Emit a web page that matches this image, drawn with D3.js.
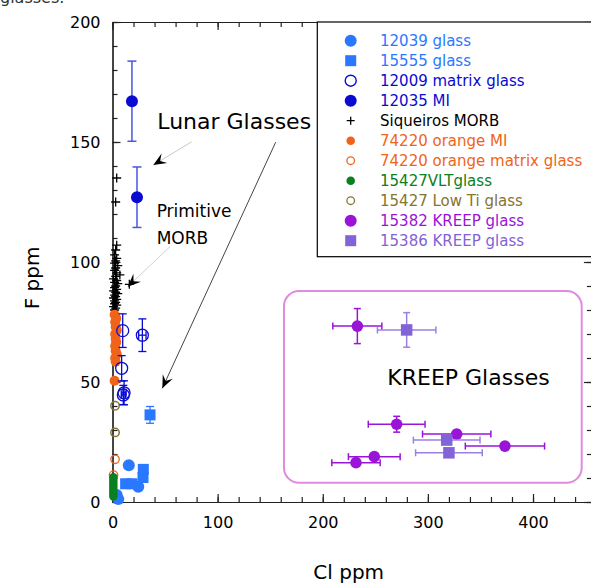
<!DOCTYPE html>
<html><head><meta charset="utf-8">
<script src="https://cdn.jsdelivr.net/npm/d3@7"></script>
<style>body{margin:0;background:#fff}svg{display:block}text{font-family:"DejaVu Sans",sans-serif}</style>
</head><body>
<svg id="c" width="591" height="585"></svg>
<script>
// ---- data ----
const xTicksMajor = [0, 100, 200, 300, 400];
const yTicksMajor = [0, 50, 100, 150, 200];
const glass12039 = [[15.5, 15.3], [24.5, 6.4], [4, 2.9], [5.5, 1.2]];
const glass15555 = [[35.7, 36.3, 3.5], [29.3, 13.6, 0], [29.0, 10.2, 0], [12.5, 7.6, 0], [18.5, 7.6, 0]];
const matrix12009 = [[9.7, 71.4, 7, 0], [28.4, 69.5, 6.8, 3.5], [8.7, 55.7, 5.3, 0], [11.0, 45.5, 5, 2], [10.3, 44.6, 4, 2]];
const mi12035 = [[18.5, 167, 16.7], [23.3, 127, 12.6]];
const morbX = [4, 3, 4, 3, 2, 4, 3, 2, 5, 3, 2, 4, 7, 3, 1, 4, 2, 5, 16, 3, 2, 4, 1, 3, 5, 2, 3, 1, 4, 2, 3, 2, 4, 1, 3, 2];
const morbY = [135, 125, 107, 105, 103, 101.5, 100.5, 99.5, 98.5, 97.5, 96.5, 95.5, 94.6, 94, 93, 92.2, 91.5, 91, 90.7, 90, 89.3, 88.6, 88, 87.4, 86.8, 86.2, 85.6, 85, 84.4, 83.8, 83.2, 82.6, 82, 81.4, 80.8, 80];
const orangeMI = [[2, 78], [3.5, 76.5], [2.5, 75], [3, 73], [4, 71.5], [2.5, 70], [3, 68], [3.5, 66.5], [2.5, 65], [3, 63], [4, 61.5], [2.5, 60], [3, 58.5], [2, 50.5]];
const orangeMatrix = [[2.4, 17.8], [1, 11.2]];
const vlt15427 = [[0.8, 10.3], [0.8, 9.3], [0.8, 8.3], [0.8, 7.3], [0.8, 6.3], [0.8, 5.3], [0.8, 4.3], [0.8, 3.3], [0.8, 2.3]];
const lowTi15427 = [[2.4, 40.1], [2.4, 29]];
// KREEP: x, y, xerr, yerr
const kreep15382 = [[232.9, 73.3, 23.3, 7.3], [270.3, 32.4, 27, 3.3], [327.4, 28.3, 32.5, 1.5], [373.3, 23.3, 37.7, 0], [249, 18.9, 24.6, 0], [231.6, 16.4, 23, 0]];
const kreep15386 = [[279.8, 71.7, 27.8, 7.2], [317.9, 25.8, 31.7, 0], [320, 20.5, 31.7, 0]];
const legendLabels = ["12039 glass", "15555 glass", "12009 matrix glass", "12035 MI", "Siqueiros MORB", "74220 orange MI", "74220 orange matrix glass", "15427VLTglass", "15427 Low Ti glass", "15382 KREEP glass", "15386 KREEP glass"];

// ---- colours ----
const C = {
  lb: "#2a78ff", db: "#0a0ad0", dbErr: "#4a55e0", org: "#f0641a", grn: "#0a8020",
  olv: "#857530", pur: "#9a14d8", lav: "#8363d8", blk: "#000"
};

const svg = d3.select("#c");
const x = d3.scaleLinear().domain([0, 456]).range([112.5, 112.5 + 456 * 1.0513]);
const y = d3.scaleLinear().domain([0, 200]).range([502, 22]);
const X0 = x(0), X1 = x(456), Y0 = y(0), Y1 = y(200);

// cropped caption at top
svg.append("text").attr("x", 0).attr("y", 3).attr("font-size", 16).attr("fill", "#333").text("glasses.");

// ---- axes ----
function styleAxis(g) {
  g.selectAll("path.domain").attr("stroke", "#222").attr("stroke-width", 1.2);
  g.selectAll(".tick line").attr("stroke", "#222").attr("stroke-width", 1.2);
  g.selectAll("text").attr("font-size", 16).attr("fill", "#000").attr("font-family", "DejaVu Sans, sans-serif");
}
const xMinor = d3.range(0, 457, 20);
const yMinor = d3.range(0, 201, 10);
// bottom
svg.append("g").attr("transform", `translate(0,${Y0})`)
  .call(d3.axisBottom(x).tickValues(xMinor).tickSize(-5).tickSizeOuter(0).tickFormat(""))
  .call(styleAxis);
svg.append("g").attr("transform", `translate(0,${Y0})`)
  .call(d3.axisBottom(x).tickValues(xTicksMajor).tickSize(-8).tickSizeOuter(0).tickPadding(15))
  .call(styleAxis);
// top
svg.append("g").attr("transform", `translate(0,${Y1})`)
  .call(d3.axisTop(x).tickValues(xMinor).tickSize(-5).tickSizeOuter(0).tickFormat(""))
  .call(styleAxis);
svg.append("g").attr("transform", `translate(0,${Y1})`)
  .call(d3.axisTop(x).tickValues(xTicksMajor).tickSize(-8).tickSizeOuter(0).tickFormat(""))
  .call(styleAxis);
// left
svg.append("g").attr("transform", `translate(${X0},0)`)
  .call(d3.axisLeft(y).tickValues(yMinor).tickSize(-5).tickSizeOuter(0).tickFormat(""))
  .call(styleAxis);
svg.append("g").attr("transform", `translate(${X0},0)`)
  .call(d3.axisLeft(y).tickValues(yTicksMajor).tickSize(-8).tickSizeOuter(0).tickPadding(12))
  .call(styleAxis);
// right
svg.append("g").attr("transform", `translate(${X1},0)`)
  .call(d3.axisRight(y).tickValues(yMinor).tickSize(-5).tickSizeOuter(0).tickFormat(""))
  .call(styleAxis);
svg.append("g").attr("transform", `translate(${X1},0)`)
  .call(d3.axisRight(y).tickValues(yTicksMajor).tickSize(-8).tickSizeOuter(0).tickFormat(""))
  .call(styleAxis);

// axis titles
svg.append("text").attr("x", 348.7).attr("y", 579).attr("text-anchor", "middle")
  .attr("font-size", 20).attr("font-family", "Liberation Sans, Arial, sans-serif").text("Cl ppm");
svg.append("text").attr("transform", "translate(39,278) rotate(-90)").attr("text-anchor", "middle")
  .attr("font-size", 20).attr("font-family", "Liberation Sans, Arial, sans-serif").text("F ppm");

// ---- KREEP box ----
svg.append("rect").attr("x", x(163.1)).attr("y", y(87.9))
  .attr("width", x(446.3) - x(163.1)).attr("height", y(8.0) - y(87.9))
  .attr("rx", 15).attr("fill", "none").attr("stroke", "#e08ae0").attr("stroke-width", 2);

// ---- annotations ----
function arrow(x1, y1, x2, y2, col) {
  const a = [x(x1), y(y1)], b = [x(x2), y(y2)];
  svg.append("line").attr("x1", a[0]).attr("y1", a[1]).attr("x2", b[0]).attr("y2", b[1])
    .attr("stroke", col).attr("stroke-width", 1);
  const ang = Math.atan2(b[1] - a[1], b[0] - a[0]);
  const L = 13, W = 5.5, N = 8;
  const ux = Math.cos(ang), uy = Math.sin(ang), px = -uy, py = ux;
  const p = [
    [b[0], b[1]],
    [b[0] - L * ux + W * px, b[1] - L * uy + W * py],
    [b[0] - N * ux, b[1] - N * uy],
    [b[0] - L * ux - W * px, b[1] - L * uy - W * py]
  ];
  svg.append("path").attr("d", "M" + p.map(d => d.join(",")).join("L") + "Z").attr("fill", "#000");
}
arrow(75.3, 150.1, 38.8, 140.4, "#c8c8c8");
arrow(155.2, 149.9, 47.4, 47.4, "#444");
arrow(54.7, 106.4, 14.5, 89.7, "#d0d0d0");
svg.append("text").attr("x", x(42.6)).attr("y", y(155.3)).attr("font-size", 22).text("Lunar Glasses");
svg.append("text").attr("x", x(42)).attr("y", y(118.6)).attr("font-size", 17).text("Primitive");
svg.append("text").attr("x", x(42)).attr("y", y(107.5)).attr("font-size", 17).text("MORB");
svg.append("text").attr("x", x(261.4)).attr("y", y(48.75)).attr("font-size", 22).text("KREEP Glasses");

// ---- helpers ----
const plot = svg.append("g");
function vErr(cx, y1, y2, col, cap = 4, w = 1.5) {
  plot.append("line").attr("x1", cx).attr("x2", cx).attr("y1", y1).attr("y2", y2).attr("stroke", col).attr("stroke-width", w);
  [y1, y2].forEach(v => plot.append("line").attr("x1", cx - cap).attr("x2", cx + cap).attr("y1", v).attr("y2", v).attr("stroke", col).attr("stroke-width", w));
}
function hErr(cy, x1, x2, col, cap = 4, w = 1.5) {
  plot.append("line").attr("y1", cy).attr("y2", cy).attr("x1", x1).attr("x2", x2).attr("stroke", col).attr("stroke-width", w);
  [x1, x2].forEach(v => plot.append("line").attr("y1", cy - cap).attr("y2", cy + cap).attr("x1", v).attr("x2", v).attr("stroke", col).attr("stroke-width", w));
}
function circ(g, cx, cy, r, col, filled, sw = 1.5) {
  g.append("circle").attr("cx", cx).attr("cy", cy).attr("r", r)
    .attr("fill", filled ? col : "none").attr("stroke", col).attr("stroke-width", filled ? 0 : sw);
}
function sq(g, cx, cy, s, col) {
  g.append("rect").attr("x", cx - s / 2).attr("y", cy - s / 2).attr("width", s).attr("height", s).attr("fill", col);
}
function cross(g, cx, cy, s, col) {
  g.append("path").attr("d", `M${cx - s},${cy}H${cx + s}M${cx},${cy - s}V${cy + s}`).attr("stroke", col).attr("stroke-width", 1.3);
}

// ---- marks ----
morbX.forEach((v, i) => cross(plot, x(v), y(morbY[i]), 4.5, C.blk));
orangeMatrix.forEach(d => circ(plot, x(d[0]), y(d[1]), 4.2, C.org, false, 1.3));
lowTi15427.forEach(d => circ(plot, x(d[0]), y(d[1]), 4.2, C.olv, false, 1.5));
orangeMI.forEach(d => circ(plot, x(d[0]), y(d[1]), 5, C.org, true));
glass12039.forEach(d => circ(plot, x(d[0]), y(d[1]), 6, C.lb, true));
vlt15427.forEach(d => circ(plot, x(d[0]), y(d[1]), 4.2, C.grn, true));
glass15555.forEach(d => {
  if (d[2]) vErr(x(d[0]), y(d[1] + d[2]), y(d[1] - d[2]), C.lb, 4, 1.3);
  sq(plot, x(d[0]), y(d[1]), 11, C.lb);
});
matrix12009.forEach(d => {
  vErr(x(d[0]), y(d[1] + d[2]), y(d[1] - d[2]), C.db, 4, 1.3);
  if (d[3]) hErr(y(d[1]), x(d[0] - d[3]), x(d[0] + d[3]), C.db, 4, 1.3);
  circ(plot, x(d[0]), y(d[1]), 6, C.db, false, 1.3);
});
mi12035.forEach(d => {
  vErr(x(d[0]), y(d[1] + d[2]), y(d[1] - d[2]), C.dbErr, 4.5, 1.5);
  circ(plot, x(d[0]), y(d[1]), 6, C.db, true);
});
kreep15382.forEach(d => {
  hErr(y(d[1]), x(d[0] - d[2]), x(d[0] + d[2]), C.pur, 3.5, 1.5);
  if (d[3]) vErr(x(d[0]), y(d[1] + d[3]), y(d[1] - d[3]), C.pur, 3.5, 1.5);
  circ(plot, x(d[0]), y(d[1]), 5.8, C.pur, true);
});
kreep15386.forEach(d => {
  hErr(y(d[1]), x(d[0] - d[2]), x(d[0] + d[2]), "#9a80e0", 3.5, 1.5);
  if (d[3]) vErr(x(d[0]), y(d[1] + d[3]), y(d[1] - d[3]), "#9a80e0", 3.5, 1.5);
  sq(plot, x(d[0]), y(d[1]), 11.5, C.lav);
});

// ---- legend ----
const lg = svg.append("g");
lg.append("rect").attr("x", 317.3).attr("y", Y1).attr("width", 300).attr("height", 256.7 - Y1)
  .attr("fill", "#fff").attr("stroke", "#000").attr("stroke-width", 1.2);
const legCols = [C.lb, C.lb, C.db, C.db, C.blk, C.org, C.org, C.grn, C.olv, C.pur, C.lav];
legendLabels.forEach((t, i) => {
  const cy = 40.7 + i * 20, cx = 350.7;
  if (i === 0) circ(lg, cx, cy, 6, C.lb, true);
  if (i === 1) sq(lg, cx, cy, 11, C.lb);
  if (i === 2) circ(lg, cx, cy, 5.5, C.db, false, 1.4);
  if (i === 3) circ(lg, cx, cy, 6, C.db, true);
  if (i === 4) cross(lg, cx, cy, 4, C.blk);
  if (i === 5) circ(lg, cx, cy, 4.3, C.org, true);
  if (i === 6) circ(lg, cx, cy, 3.8, C.org, false, 1.3);
  if (i === 7) circ(lg, cx, cy, 4.3, C.grn, true);
  if (i === 8) circ(lg, cx, cy, 3.8, C.olv, false, 1.3);
  if (i === 9) circ(lg, cx, cy, 6, C.pur, true);
  if (i === 10) sq(lg, cx, cy, 11, C.lav);
  lg.append("text").attr("x", 380).attr("y", cy).attr("dy", "0.36em").attr("font-size", 15)
    .attr("fill", legCols[i]).text(t);
});
</script>
</body></html>
